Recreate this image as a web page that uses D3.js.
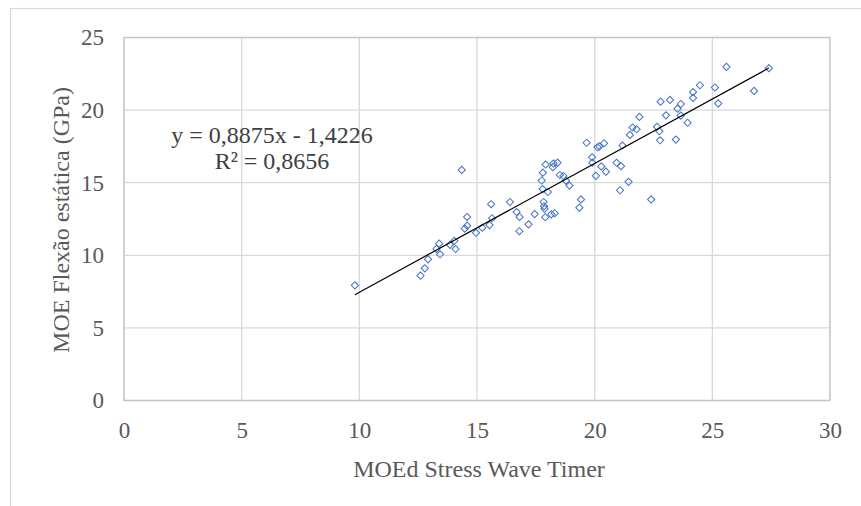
<!DOCTYPE html>
<html><head><meta charset="utf-8">
<script src="https://cdn.jsdelivr.net/npm/d3@7"></script>
<style>
html,body{margin:0;padding:0;background:#fff;}
svg{display:block;font-family:"Liberation Serif","Times New Roman",serif;}
</style></head>
<body><svg id="c" width="861" height="506"></svg>
<script>
const xValues = [9.81,14.35,12.6,12.78,12.92,13.28,13.39,13.43,13.85,14.04,14.09,14.48,14.58,14.58,14.96,15.22,15.53,15.64,15.6,16.4,16.68,16.81,16.8,17.19,17.45,17.75,17.79,17.8,17.83,17.85,17.87,17.9,17.92,18.01,18.16,18.22,18.25,18.3,18.42,18.52,18.67,18.78,18.93,19.35,19.42,19.66,19.89,19.9,20.05,20.12,20.2,20.28,20.4,20.48,20.93,21.08,21.12,21.18,21.44,21.5,21.61,21.78,21.9,22.4,22.65,22.75,22.78,22.8,23.03,23.2,23.45,23.52,23.66,23.66,23.95,24.18,24.18,24.47,25.11,25.25,25.6,26.77,27.4];
const yValues = [7.93,15.88,8.6,9.1,9.72,10.44,10.8,10.07,10.72,11.0,10.43,11.84,12.04,12.64,11.55,11.9,12.08,12.55,13.52,13.67,12.98,12.64,11.66,12.13,12.84,15.15,14.56,15.69,13.67,13.38,13.2,12.62,16.25,14.36,12.82,16.07,16.32,12.9,16.38,15.53,15.46,15.14,14.8,13.28,13.85,17.75,16.75,16.38,15.47,17.44,17.5,16.12,17.72,15.76,16.37,14.48,16.14,17.56,15.06,18.29,18.8,18.68,19.53,13.85,18.85,18.54,17.92,20.58,19.64,20.7,17.97,20.1,20.42,19.62,19.13,20.84,21.24,21.71,21.56,20.46,22.98,21.32,22.89];
const xTicks = [0,5,10,15,20,25,30];
const yTicks = [0,5,10,15,20,25];
const slope = 0.8875, intercept = -1.4226;
const eqLines = ["y = 0,8875x - 1,4226", "R\u00B2 = 0,8656"];
const xTitle = "MOEd Stress Wave Timer";
const yTitle = "MOE Flex\u00E3o est\u00E1tica (GPa)";

const svg = d3.select("#c");
const L = 124, R = 830, T = 37.5, B = 400.5;
const x = d3.scaleLinear().domain([0,30]).range([L,R]);
const y = d3.scaleLinear().domain([0,25]).range([B,T]);

// outer chart border
svg.append("rect").attr("x",10.5).attr("y",8.5).attr("width",860).attr("height",520)
  .attr("fill","none").attr("stroke","#d9d9d9").attr("stroke-width",1.2);

// gridlines
const g = svg.append("g");
g.selectAll(".vx").data(xTicks).join("line")
  .attr("x1",d=>x(d)).attr("x2",d=>x(d)).attr("y1",T).attr("y2",B)
  .attr("stroke","#d9d9d9").attr("stroke-width",1.3);
g.selectAll(".hy").data(yTicks).join("line")
  .attr("y1",d=>y(d)).attr("y2",d=>y(d)).attr("x1",L).attr("x2",R)
  .attr("stroke","#d9d9d9").attr("stroke-width",1.3);
svg.append("rect").attr("x",L).attr("y",T).attr("width",R-L).attr("height",B-T)
  .attr("fill","none").attr("stroke","#c4c4c4").attr("stroke-width",1.2);

// axes with D3
const xAxis = d3.axisBottom(x).tickValues(xTicks).tickSize(0).tickPadding(21).tickFormat(d3.format("d"));
const yAxis = d3.axisLeft(y).tickValues(yTicks).tickSize(0).tickPadding(20).tickFormat(d3.format("d"));
const ax = svg.append("g").attr("transform",`translate(0,${B})`).call(xAxis);
const ay = svg.append("g").attr("transform",`translate(${L},0)`).call(yAxis);
[ax,ay].forEach(a=>{
  a.select(".domain").remove();
  a.selectAll("text").attr("font-family","'Liberation Serif','Times New Roman',serif")
   .attr("font-size",23).attr("fill","#595959");
});

// markers
const diamond = d3.symbol().type(d3.symbolDiamond2).size(40);
svg.append("g").selectAll("path").data(xValues.map((v,i)=>[v,yValues[i]])).join("path")
  .attr("transform",d=>`translate(${x(d[0])},${y(d[1])}) rotate(45)`)
  .attr("d", d3.symbol().type(d3.symbolSquare).size(26))
  .attr("fill","none").attr("stroke","#4472c4").attr("stroke-width",1);

// trendline
const x0 = d3.min(xValues), x1 = d3.max(xValues);
svg.append("line").attr("x1",x(x0)).attr("y1",y(slope*x0+intercept))
  .attr("x2",x(x1)).attr("y2",y(slope*x1+intercept))
  .attr("stroke","#000").attr("stroke-width",1.2);

// equation
svg.append("g").selectAll("text").data(eqLines).join("text")
  .attr("x",272).attr("y",(d,i)=>143+i*25.5).attr("text-anchor","middle")
  .attr("font-size",24).attr("fill","#404040").text(d=>d);

// titles
svg.append("text").attr("x",(L+R)/2+2).attr("y",477).attr("text-anchor","middle")
  .attr("font-size",24).attr("fill","#595959").text(xTitle);
svg.append("text").attr("transform","translate(69,220) rotate(-90)").attr("text-anchor","middle")
  .attr("font-size",24).attr("fill","#595959").text(yTitle);
</script></body></html>
